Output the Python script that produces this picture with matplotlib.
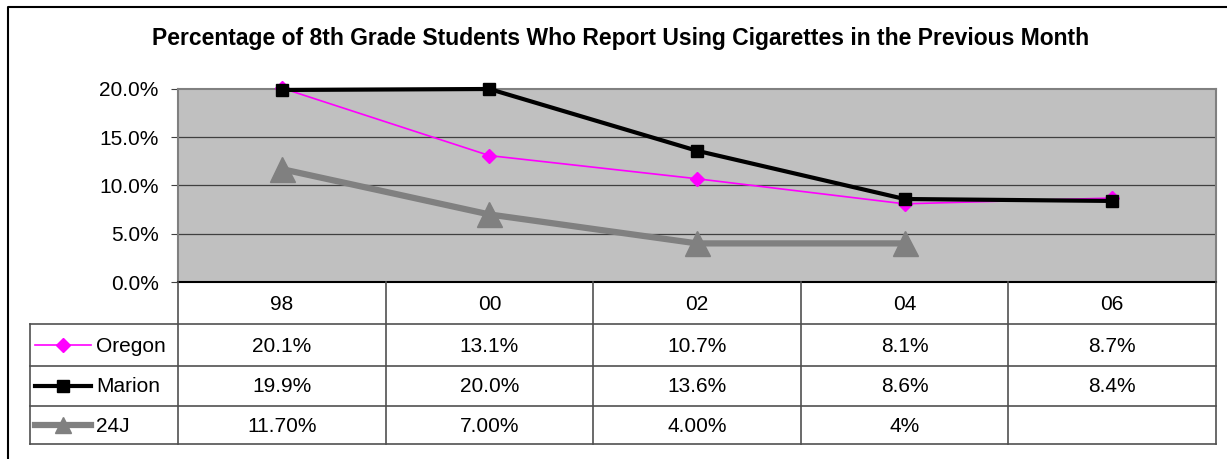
import matplotlib
matplotlib.use("Agg")
import matplotlib.pyplot as plt

plt.rcParams['font.family'] = ['Liberation Sans', 'DejaVu Sans']

# data
years = ["98", "00", "02", "04", "06"]
oregon = [20.1, 13.1, 10.7, 8.1, 8.7]
marion = [19.9, 20.0, 13.6, 8.6, 8.4]
j24 = [11.7, 7.0, 4.0, 4.0]
oregon_lbl = ["20.1%", "13.1%", "10.7%", "8.1%", "8.7%"]
marion_lbl = ["19.9%", "20.0%", "13.6%", "8.6%", "8.4%"]
j24_lbl = ["11.70%", "7.00%", "4.00%", "4%", ""]
yticks = [0, 5, 10, 15, 20]

W, H = 1227, 459
FS = 15
fig = plt.figure(figsize=(W / 100, H / 100), dpi=100)

# pixel layout of the plot area
L, R, T, B = 178, 1216, 89, 282
ax = fig.add_axes([L / W, 1 - B / H, (R - L) / W, (B - T) / H])
ax.set_facecolor("#C0C0C0")
ax.set_xlim(-0.5, len(years) - 0.5)
ax.set_ylim(0, 20)
ax.set_yticks(yticks)
ax.set_yticklabels([f"{v:.1f}%" for v in yticks], fontsize=FS)
ax.set_xticks([])
for v in yticks[1:-1]:
    ax.axhline(v, color="#404040", lw=0.9, zorder=1)
ax.tick_params(axis="y", length=5, width=0.8, pad=9, color="#404040")
for s in ["top", "right", "left"]:
    ax.spines[s].set_color("#808080")
    ax.spines[s].set_linewidth(1.5)
ax.spines["bottom"].set_color("black")
ax.spines["bottom"].set_linewidth(1.5)

styles = {
    "Oregon": dict(color="#FF00FF", lw=1.2, marker="D", ms=7),
    "Marion": dict(color="black", lw=3, marker="s", ms=9),
    "24J": dict(color="#808080", lw=4.5, marker="^", ms=18),
}

x = list(range(len(years)))
ax.plot(x[:len(j24)], j24, zorder=3, clip_on=False, **styles["24J"])
ax.plot(x, oregon, zorder=4, clip_on=False, **styles["Oregon"])
ax.plot(x, marion, zorder=5, clip_on=False, **styles["Marion"])

# overlay in pixel coordinates for frame, title and data table
ov = fig.add_axes([0, 0, 1, 1], facecolor="none")
ov.set_xlim(0, W)
ov.set_ylim(H, 0)
ov.axis("off")

ov.plot([8, 8, W + 5], [H + 5, 7, 7], color="black", lw=1.5)
ov.text(621, 38, "Percentage of 8th Grade Students Who Report Using Cigarettes in the Previous Month",
        ha="center", va="center", fontsize=16.5, fontweight="bold")

col_w = (R - L) / len(years)
rows_y = [282, 324, 366, 406, 444]
grid_c = "#505050"
for i in range(len(years) + 1):
    xx = L + i * col_w
    ov.plot([xx, xx], [rows_y[0], rows_y[-1]], color=grid_c, lw=1.2)
ov.plot([30, 30], [rows_y[1], rows_y[-1]], color=grid_c, lw=1.2)
for yy in rows_y[1:]:
    ov.plot([30, R], [yy, yy], color=grid_c, lw=1.2)

for i, yr in enumerate(years):
    ov.text(L + (i + 0.5) * col_w, (rows_y[0] + rows_y[1]) / 2 + 1, yr,
            ha="center", va="center", fontsize=FS)

series = [("Oregon", oregon_lbl), ("Marion", marion_lbl), ("24J", j24_lbl)]
legend_ms = {"Oregon": 7, "Marion": 9, "24J": 11}
for r, (name, labels) in enumerate(series):
    yc = (rows_y[r + 1] + rows_y[r + 2]) / 2
    st = dict(styles[name], ms=legend_ms[name])
    ov.plot([35, 63, 91], [yc, yc, yc], markevery=[1], **st)
    ov.text(96, yc + 1, name, ha="left", va="center", fontsize=FS)
    for i, lab in enumerate(labels):
        ov.text(L + (i + 0.5) * col_w, yc + 1, lab, ha="center", va="center", fontsize=FS)

fig.savefig("out.png", dpi=100)
